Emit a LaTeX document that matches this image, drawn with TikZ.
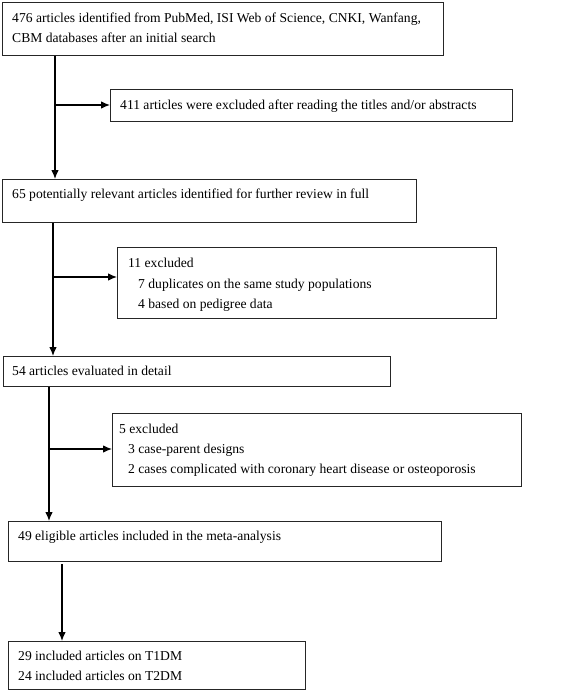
\documentclass[tikz,border=0pt]{standalone}
\usepackage{fontspec}
\setmainfont{Liberation Serif}
\usetikzlibrary{arrows.meta,calc}
\begin{document}
\begin{tikzpicture}[x=1pt,y=-1pt,
  box/.style={draw=black!85,line width=1.2pt,inner sep=0pt,anchor=north west,rectangle},
  txt/.style={inner sep=0pt,anchor=base west,align=left,font=\fontsize{13.6}{20.5}\selectfont},
  conn/.style={draw=black,line width=1.1pt},
  arr/.style={conn,-{Latex[length=9pt,width=7.5pt]}}]
\useasboundingbox (0,0) rectangle (568,690);
% boxes
\node[box,minimum width=441pt,minimum height=53pt] (b1) at (2,2) {};
\node[box,minimum width=402pt,minimum height=32pt] (b2) at (110,89) {};
\node[box,minimum width=414pt,minimum height=43pt] (b3) at (2,179) {};
\node[box,minimum width=379pt,minimum height=71pt] (b4) at (117,247) {};
\node[box,minimum width=387pt,minimum height=30pt] (b5) at (3,356) {};
\node[box,minimum width=409pt,minimum height=73pt] (b6) at (112,413) {};
\node[box,minimum width=433pt,minimum height=40pt] (b7) at (8,521) {};
\node[box,minimum width=297pt,minimum height=48pt] (b8) at (8,641) {};
% texts
\node[txt] (t1a) at (12,23) {476 articles identified from PubMed, ISI Web of Science, CNKI, Wanfang,};
\node[txt] (t1b) at (12,43) {CBM databases after an initial search};
\node[txt] (t2) at (120,110) {411 articles were excluded after reading the titles and/or abstracts};
\node[txt] (t3) at (12,198) {65 potentially relevant articles identified for further review in full};
\node[txt] (t4a) at (128,267) {11 excluded};
\node[txt] (t4b) at (138,288) {7 duplicates on the same study populations};
\node[txt] (t4c) at (138,308) {4 based on pedigree data};
\node[txt] (t5) at (12,375) {54 articles evaluated in detail};
\node[txt] (t6a) at (119,433) {5 excluded};
\node[txt] (t6b) at (128,453) {3 case-parent designs};
\node[txt] (t6c) at (128,473) {2 cases complicated with coronary heart disease or osteoporosis};
\node[txt] (t7) at (18,540) {49 eligible articles included in the meta-analysis};
\node[txt] (t8a) at (18,660) {29 included articles on T1DM};
\node[txt] (t8b) at (18,680) {24 included articles on T2DM};
% junction coordinates
\coordinate (j1) at (55,105);
\coordinate (j2) at (53,277);
\coordinate (j3) at (49,449);
\coordinate (j4) at (62,564);
% connectors
\draw[arr] (b1.south -| j1) -- (b3.north -| j1);
\draw[arr] (j1) -- (b2.west |- j1);
\draw[arr] (b3.south -| j2) -- (b5.north -| j2);
\draw[arr] (j2) -- (b4.west |- j2);
\draw[arr] (b5.south -| j3) -- (b7.north -| j3);
\draw[arr] (j3) -- (b6.west |- j3);
\draw[arr] (j4) -- (b8.north -| j4);
\end{tikzpicture}
\end{document}
